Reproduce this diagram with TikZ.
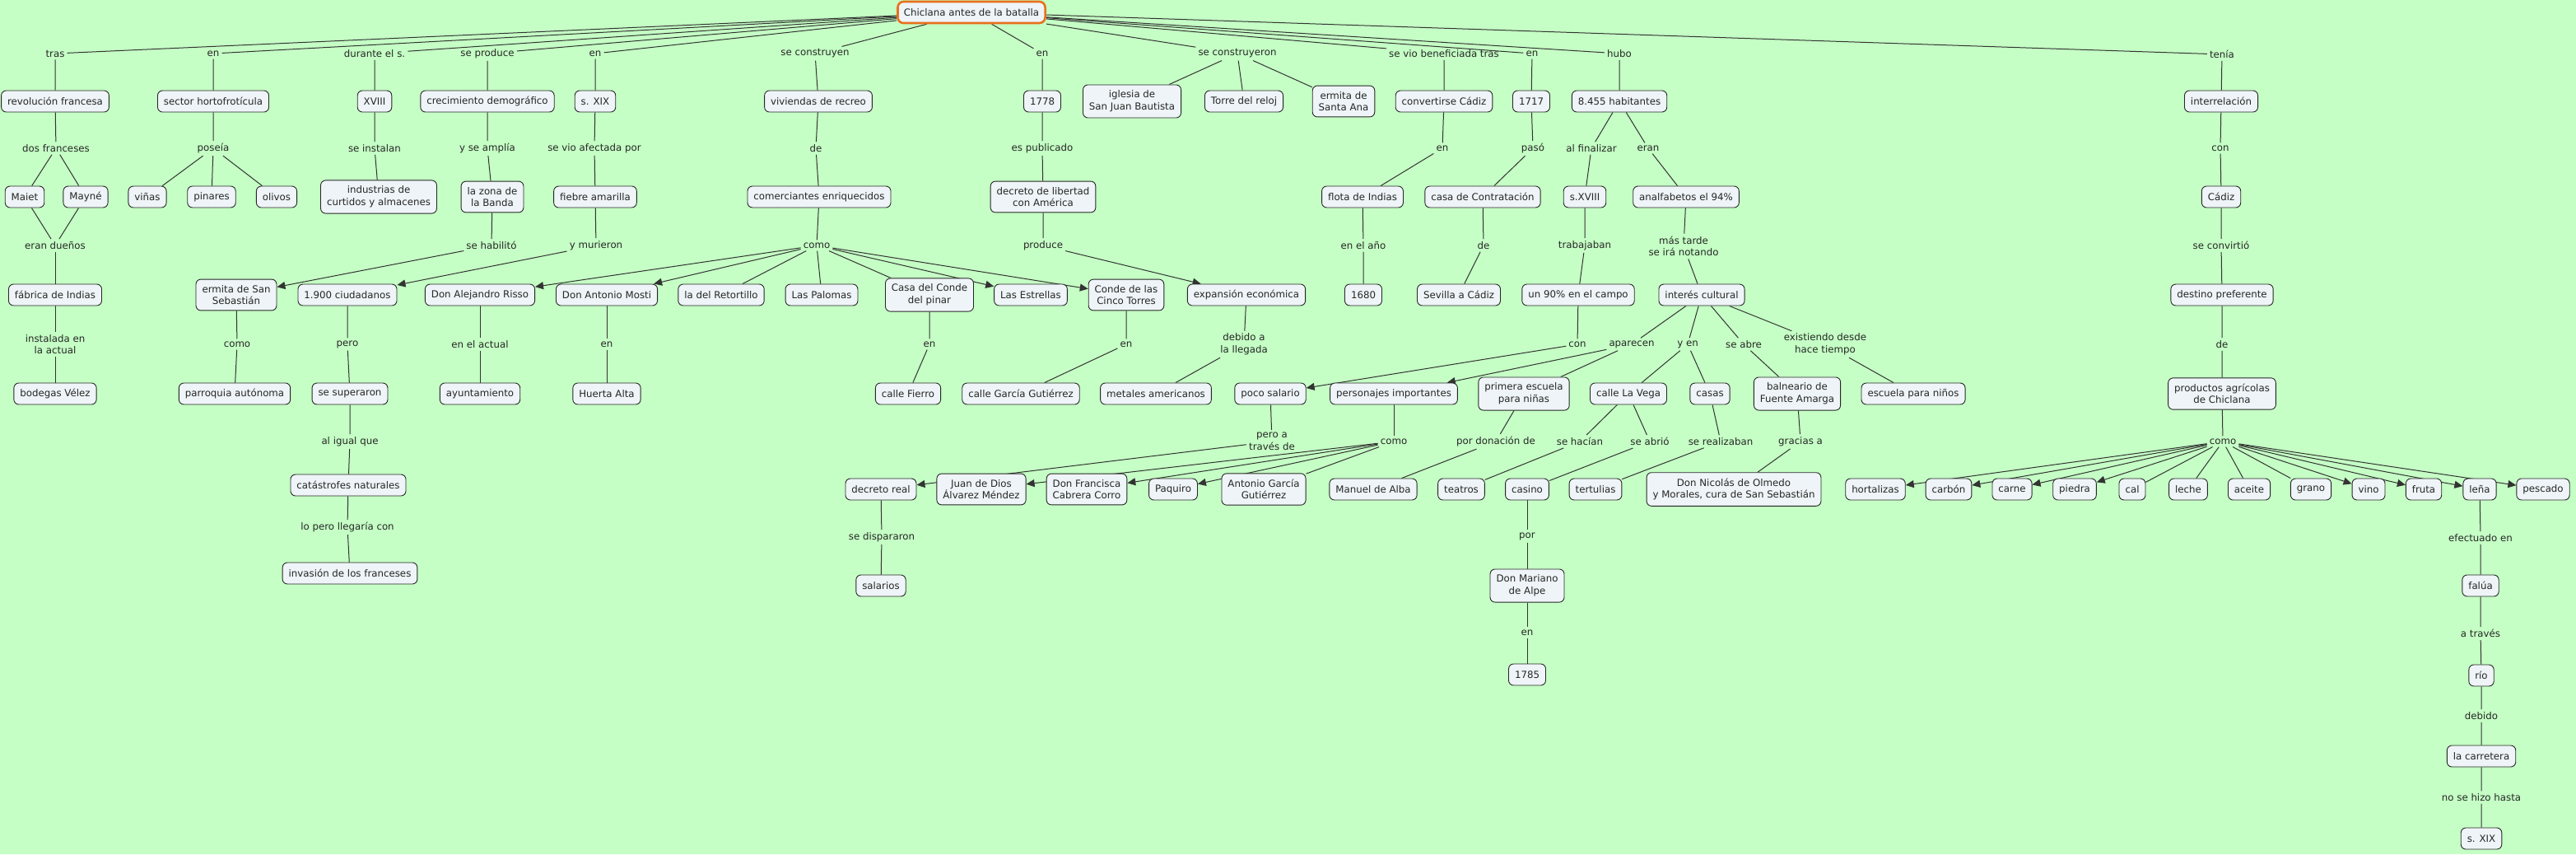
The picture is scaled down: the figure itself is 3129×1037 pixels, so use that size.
\documentclass[tikz,border=0pt]{standalone}
\usepackage{fontspec}
\setmainfont{DejaVu Sans}
\usetikzlibrary{arrows.meta,backgrounds}

\definecolor{bgmap}{RGB}{197,255,197}
\definecolor{conceptfill}{RGB}{238,244,247}
\definecolor{rootorange}{RGB}{232,112,30}

\tikzset{
  concept/.style={draw=black!85, line width=0.9pt, fill=conceptfill, rounded corners=6pt,
    align=center, inner xsep=7.5pt, inner ysep=7pt, minimum height=26pt,
    font=\fontsize{11.8}{14.7}\selectfont, text=black!85},
  root/.style={concept, draw=rootorange, line width=2.6pt, rounded corners=7pt},
  link/.style={align=center, inner sep=3pt, font=\fontsize{11.8}{14.7}\selectfont, text=black!85},
  wire/.style={draw=black!80, line width=1pt},
  wirearrow/.style={wire, -{Triangle[length=10pt,width=9pt]}},
}

\begin{document}
\begin{tikzpicture}[x=1pt,y=-1pt]

\useasboundingbox (0,0) rectangle (3129,1037);

% Root
\node[root] (chic) at (1180,15) {Chiclana antes de la batalla};

% Links from the root
\node[link] (tras) at (67,65) {tras};
\node[link] (en1) at (259,65) {en};
\node[link] (durante) at (455,65) {durante el s.};
\node[link] (seproduce) at (592,65) {se produce};
\node[link] (en2) at (723,65) {en};
\node[link] (seconstruyen) at (990,65) {se construyen};
\node[link] (en3) at (1266,65) {en};
\node[link] (seconstruyeron) at (1503,65) {se construyeron};
\node[link] (beneficiada) at (1754,65) {se vio beneficiada tras};
\node[link] (en4) at (1861,65) {en};
\node[link] (hubo) at (1967,65) {hubo};
\node[link] (tenia) at (2699,66) {tenía};

% First row of concepts
\node[concept] (revolucion) at (67,123) {revolución francesa};
\node[concept] (hortofruticula) at (259,123) {sector hortofrotícula};
\node[concept] (xviii) at (455,123) {XVIII};
\node[concept] (crecimiento) at (592,123) {crecimiento demográfico};
\node[concept] (sxix) at (723,123) {s. XIX};
\node[concept] (viviendas) at (994,123) {viviendas de recreo};
\node[concept] (y1778) at (1266,123) {1778};
\node[concept] (iglesia) at (1375,123) {iglesia de\\San Juan Bautista};
\node[concept] (torre) at (1511,123) {Torre del reloj};
\node[concept] (santaana) at (1632,123) {ermita de\\Santa Ana};
\node[concept] (convertirse) at (1754,123) {convertirse Cádiz};
\node[concept] (y1717) at (1860,123) {1717};
\node[concept] (habitantes) at (1967,123) {8.455 habitantes};
\node[concept] (interrelacion) at (2698,123) {interrelación};

\node[link] (dosfranceses) at (68,180) {dos franceses};
\node[link] (poseia) at (259,180) {poseía};
\node[link] (seinstalan) at (455,180) {se instalan};
\node[link] (seamplia) at (592,180) {y se amplía};
\node[link] (afectada) at (722,180) {se vio afectada por};
\node[link] (de1) at (991,180) {de};
\node[link] (publicado) at (1266,180) {es publicado};
\node[link] (en5) at (1752,180) {en};
\node[link] (paso) at (1862,180) {pasó};
\node[link] (alfinalizar) at (1933,180) {al finalizar};
\node[link] (eran) at (2002,180) {eran};
\node[link] (con1) at (2697,180) {con};

% Second row of concepts
\node[concept] (maiet) at (30,239) {Maiet};
\node[concept] (mayne) at (104,239) {Mayné};
\node[concept] (vinas) at (179,239) {viñas};
\node[concept] (pinares) at (257,239) {pinares};
\node[concept] (olivos) at (336,239) {olivos};
\node[concept] (industrias) at (460,239) {industrias de\\curtidos y almacenes};
\node[concept] (banda) at (598,239) {la zona de\\la Banda};
\node[concept] (fiebre) at (723,239) {fiebre amarilla};
\node[concept] (comerciantes) at (995,239) {comerciantes enriquecidos};
\node[concept] (decretolib) at (1267,239) {decreto de libertad\\con América};
\node[concept] (flota) at (1655,239) {flota de Indias};
\node[concept] (contratacion) at (1801,239) {casa de Contratación};
\node[concept] (sxviii) at (1925,239) {s.XVIII};
\node[concept] (analfabetos) at (2048,239) {analfabetos el 94\%};
\node[concept] (cadiz) at (2698,239) {Cádiz};

\node[link] (duenos) at (67,298) {eran dueños};
\node[link] (sehabilito) at (597,298) {se habilitó};
\node[link] (murieron) at (724,298) {y murieron};
\node[link] (como1) at (992,298) {como};
\node[link] (produce) at (1267,298) {produce};
\node[link] (enelano) at (1656,298) {en el año};
\node[link] (de2) at (1802,298) {de};
\node[link] (trabajaban) at (1925,298) {trabajaban};
\node[link] (mastarde) at (2045,299) {más tarde\\se irá notando};
\node[link] (convirtio) at (2698,298) {se convirtió};

% Third row of concepts
\node[concept] (fabrica) at (67,358) {fábrica de Indias};
\node[concept] (ermitasebastian) at (287,358) {ermita de San\\Sebastián};
\node[concept] (ciudadanos) at (422,358) {1.900 ciudadanos};
\node[concept] (risso) at (583,358) {Don Alejandro Risso};
\node[concept] (mosti) at (737,358) {Don Antonio Mosti};
\node[concept] (retortillo) at (876,358) {la del Retortillo};
\node[concept] (palomas) at (998,358) {Las Palomas};
\node[concept] (condepinar) at (1129,358) {Casa del Conde\\del pinar};
\node[concept] (estrellas) at (1252,358) {Las Estrellas};
\node[concept] (cincotorres) at (1368,358) {Conde de las\\Cinco Torres};
\node[concept] (expansion) at (1514,358) {expansión económica};
\node[concept] (y1680) at (1656,358) {1680};
\node[concept] (sevilla) at (1772,358) {Sevilla a Cádiz};
\node[concept] (campo) at (1917,358) {un 90\% en el campo};
\node[concept] (interes) at (2067,358) {interés cultural};
\node[concept] (destino) at (2699,358) {destino preferente};

\node[link] (instalada) at (67,418) {instalada en\\la actual};
\node[link] (como2) at (288,418) {como};
\node[link] (pero) at (422,418) {pero};
\node[link] (enactual) at (583,418) {en el actual};
\node[link] (en6) at (737,418) {en};
\node[link] (en7) at (1129,418) {en};
\node[link] (en8) at (1368,418) {en};
\node[link] (debido) at (1511,418) {debido a\\la llegada};
\node[link] (con2) at (1916,418) {con};
\node[link] (aparecen) at (1982,418) {aparecen};
\node[link] (yen) at (2050,418) {y en};
\node[link] (seabre) at (2118,418) {se abre};
\node[link] (existiendo) at (2217,418) {existiendo desde\\hace tiempo};
\node[link] (de3) at (2699,418) {de};

% Fourth row of concepts
\node[concept] (bodegas) at (67,478) {bodegas Vélez};
\node[concept] (parroquia) at (285,478) {parroquia autónoma};
\node[concept] (superaron) at (425,478) {se superaron};
\node[concept] (ayuntamiento) at (583,478) {ayuntamiento};
\node[concept] (huerta) at (737,478) {Huerta Alta};
\node[concept] (fierro) at (1103,478) {calle Fierro};
\node[concept] (garcia) at (1240,478) {calle García Gutiérrez};
\node[concept] (metales) at (1404,478) {metales americanos};
\node[concept] (salario) at (1543,478) {poco salario};
\node[concept] (personajes) at (1693,478) {personajes importantes};
\node[concept] (escuelaninas) at (1851,478) {primera escuela\\para niñas};
\node[concept] (lavega) at (1978,478) {calle La Vega};
\node[concept] (casas) at (2077,478) {casas};
\node[concept] (balneario) at (2183,478) {balneario de\\Fuente Amarga};
\node[concept] (escuelaninos) at (2324,478) {escuela para niños};
\node[concept] (productos) at (2699,478) {productos agrícolas\\de Chiclana};

\node[link] (igual) at (425,536) {al igual que};
\node[link] (traves) at (1545,536) {pero a\\través de};
\node[link] (como3) at (1693,536) {como};
\node[link] (donacion) at (1817,536) {por donación de};
\node[link] (sehacian) at (1919,536) {se hacían};
\node[link] (seabrio) at (2004,536) {se abrió};
\node[link] (realizaban) at (2090,536) {se realizaban};
\node[link] (gracias) at (2187,536) {gracias a};
\node[link] (como4) at (2700,536) {como};

% Fifth row of concepts
\node[concept] (catastrofes) at (423,589) {catástrofes naturales};
\node[concept] (decretoreal) at (1070,594) {decreto real};
\node[concept] (juandedios) at (1192,594) {Juan de Dios\\Álvarez Méndez};
\node[concept] (cabrera) at (1320,594) {Don Francisca\\Cabrera Corro};
\node[concept] (paquiro) at (1425,594) {Paquiro};
\node[concept] (antoniogarcia) at (1535,594) {Antonio García\\Gutiérrez};
\node[concept] (manuel) at (1668,594) {Manuel de Alba};
\node[concept] (teatros) at (1775,594) {teatros};
\node[concept] (casino) at (1855,594) {casino};
\node[concept] (tertulias) at (1938,594) {tertulias};
\node[concept] (olmedo) at (2106,594) {Don Nicolás de Olmedo\\y Morales, cura de San Sebastián};
\node[concept] (hortalizas) at (2278,594) {hortalizas};
\node[concept] (carbon) at (2367,594) {carbón};
\node[concept] (carne) at (2444,594) {carne};
\node[concept] (piedra) at (2520,594) {piedra};
\node[concept] (cal) at (2590,594) {cal};
\node[concept] (leche) at (2658,594) {leche};
\node[concept] (aceite) at (2732,594) {aceite};
\node[concept] (grano) at (2807,594) {grano};
\node[concept] (vino) at (2877,594) {vino};
\node[concept] (fruta) at (2944,594) {fruta};
\node[concept] (lena) at (3012,594) {leña};
\node[concept] (pescado) at (3089,594) {pescado};

% Lower tail
\node[link] (llegaria) at (422,640) {lo pero llegaría con};
\node[link] (dispararon) at (1071,652) {se dispararon};
\node[link] (por) at (1855,651) {por};
\node[link] (efectuado) at (3013,653) {efectuado en};
\node[concept] (invasion) at (425,696) {invasión de los franceses};
\node[concept] (salarios) at (1070,711) {salarios};
\node[concept] (mariano) at (1855,711) {Don Mariano\\de Alpe};
\node[concept] (falua) at (3013,711) {falúa};
\node[link] (en9) at (1855,768) {en};
\node[link] (atraves) at (3013,769) {a través};
\node[concept] (y1785) at (1855,819) {1785};
\node[concept] (rio) at (3014,820) {río};
\node[link] (debidorio) at (3014,869) {debido};
\node[concept] (carretera) at (3014,918) {la carretera};
\node[link] (hasta) at (3014,968) {no se hizo hasta};
\node[concept] (sxix2) at (3014,1018) {s. XIX};

\begin{pgfonlayer}{background}
\fill[bgmap] (0,0) rectangle (3129,1037);

% Left branches
\draw[wire] (chic) -- (tras) -- (revolucion) -- (dosfranceses);
\draw[wire] (dosfranceses) -- (maiet) -- (duenos);
\draw[wire] (dosfranceses) -- (mayne) -- (duenos);
\draw[wire] (duenos) -- (fabrica) -- (instalada) -- (bodegas);
\draw[wire] (chic) -- (en1) -- (hortofruticula) -- (poseia);
\draw[wire] (poseia) -- (vinas);
\draw[wire] (poseia) -- (pinares);
\draw[wire] (poseia) -- (olivos);
\draw[wire] (chic) -- (durante) -- (xviii) -- (seinstalan) -- (industrias);
\draw[wire] (chic) -- (seproduce) -- (crecimiento) -- (seamplia) -- (banda) -- (sehabilito);
\draw[wirearrow] (sehabilito) -- (ermitasebastian);
\draw[wire] (ermitasebastian) -- (como2) -- (parroquia);
\draw[wire] (chic) -- (en2) -- (sxix) -- (afectada) -- (fiebre) -- (murieron);
\draw[wirearrow] (murieron) -- (ciudadanos);
\draw[wire] (ciudadanos) -- (pero) -- (superaron) -- (igual) -- (catastrofes) -- (llegaria) -- (invasion);

% Country houses
\draw[wire] (chic) -- (seconstruyen) -- (viviendas) -- (de1) -- (comerciantes) -- (como1);
\draw[wirearrow] (como1) -- (risso);
\draw[wirearrow] (como1) -- (mosti);
\draw[wire] (como1) -- (retortillo);
\draw[wire] (como1) -- (palomas);
\draw[wire] (como1) -- (condepinar);
\draw[wirearrow] (como1) -- (estrellas);
\draw[wirearrow] (como1) -- (cincotorres);
\draw[wire] (risso) -- (enactual) -- (ayuntamiento);
\draw[wire] (mosti) -- (en6) -- (huerta);
\draw[wire] (condepinar) -- (en7) -- (fierro);
\draw[wire] (cincotorres) -- (en8) -- (garcia);

% Trade and buildings
\draw[wire] (chic) -- (en3) -- (y1778) -- (publicado) -- (decretolib) -- (produce);
\draw[wirearrow] (produce) -- (expansion);
\draw[wire] (expansion) -- (debido) -- (metales);
\draw[wire] (chic) -- (seconstruyeron);
\draw[wire] (seconstruyeron) -- (iglesia);
\draw[wire] (seconstruyeron) -- (torre);
\draw[wire] (seconstruyeron) -- (santaana);
\draw[wire] (chic) -- (beneficiada) -- (convertirse) -- (en5) -- (flota) -- (enelano) -- (y1680);
\draw[wire] (chic) -- (en4) -- (y1717) -- (paso) -- (contratacion) -- (de2) -- (sevilla);

% Population
\draw[wire] (chic) -- (hubo) -- (habitantes) -- (alfinalizar) -- (sxviii) -- (trabajaban) -- (campo) -- (con2);
\draw[wirearrow] (con2) -- (salario);
\draw[wire] (salario) -- (traves);
\draw[wirearrow] (traves) -- (decretoreal);
\draw[wire] (decretoreal) -- (dispararon) -- (salarios);
\draw[wire] (habitantes) -- (eran) -- (analfabetos) -- (mastarde) -- (interes);
\draw[wire] (interes) -- (aparecen);
\draw[wirearrow] (aparecen) -- (personajes);
\draw[wire] (aparecen) -- (escuelaninas);
\draw[wire] (personajes) -- (como3);
\draw[wirearrow] (como3) -- (juandedios);
\draw[wirearrow] (como3) -- (cabrera);
\draw[wirearrow] (como3) -- (paquiro);
\draw[wire] (como3) -- (antoniogarcia);
\draw[wire] (escuelaninas) -- (donacion) -- (manuel);
\draw[wire] (interes) -- (yen) -- (lavega);
\draw[wire] (yen) -- (casas);
\draw[wire] (lavega) -- (sehacian) -- (teatros);
\draw[wire] (lavega) -- (seabrio) -- (casino);
\draw[wire] (casino) -- (por) -- (mariano) -- (en9) -- (y1785);
\draw[wire] (casas) -- (realizaban) -- (tertulias);
\draw[wire] (interes) -- (seabre) -- (balneario) -- (gracias) -- (olmedo);
\draw[wire] (interes) -- (existiendo) -- (escuelaninos);

% Cadiz and products
\draw[wire] (chic) -- (tenia) -- (interrelacion) -- (con1) -- (cadiz) -- (convirtio) -- (destino) -- (de3) -- (productos) -- (como4);
\draw[wirearrow] (como4) -- (hortalizas);
\draw[wirearrow] (como4) -- (carbon);
\draw[wirearrow] (como4) -- (carne);
\draw[wirearrow] (como4) -- (piedra);
\draw[wire] (como4) -- (cal);
\draw[wire] (como4) -- (leche);
\draw[wire] (como4) -- (aceite);
\draw[wire] (como4) -- (grano);
\draw[wirearrow] (como4) -- (vino);
\draw[wirearrow] (como4) -- (fruta);
\draw[wirearrow] (como4) -- (lena);
\draw[wirearrow] (como4) -- (pescado);
\draw[wire] (lena) -- (efectuado) -- (falua) -- (atraves) -- (rio) -- (debidorio) -- (carretera) -- (hasta) -- (sxix2);
\end{pgfonlayer}

\end{tikzpicture}
\end{document}
